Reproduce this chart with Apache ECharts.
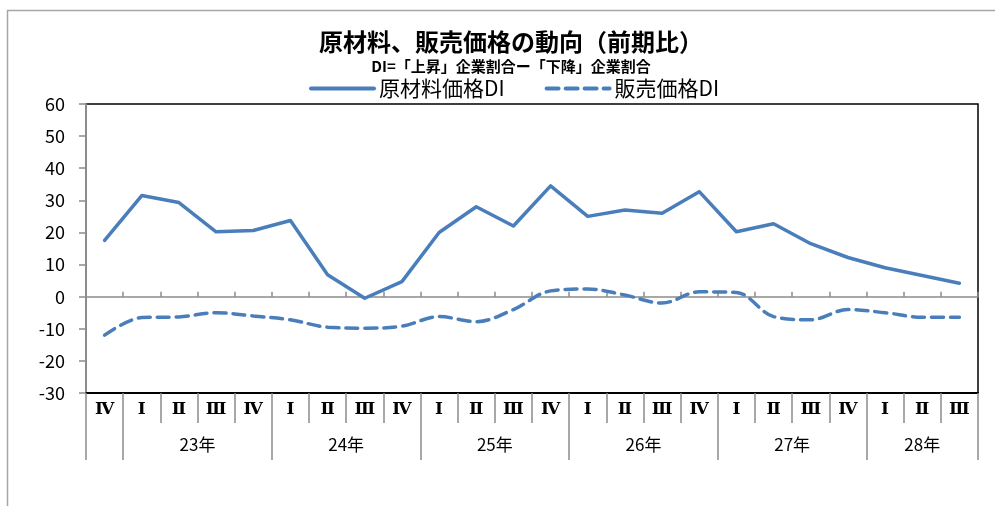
<!DOCTYPE html>
<html>
<head>
<meta charset="utf-8">
<script src="https://cdn.jsdelivr.net/npm/echarts@6/dist/echarts.min.js"></script>
<style>
  html, body { margin: 0; padding: 0; background: #fff; }
  #chart { width: 995px; height: 506px; }
</style>
</head>
<body>
<div id="chart"></div>
<script>
// quarters, starting with 22年 IV
const quarters = ['Ⅳ', 'Ⅰ', 'Ⅱ', 'Ⅲ', 'Ⅳ', 'Ⅰ', 'Ⅱ', 'Ⅲ', 'Ⅳ', 'Ⅰ', 'Ⅱ', 'Ⅲ',
                  'Ⅳ', 'Ⅰ', 'Ⅱ', 'Ⅲ', 'Ⅳ', 'Ⅰ', 'Ⅱ', 'Ⅲ', 'Ⅳ', 'Ⅰ', 'Ⅱ', 'Ⅲ']
// year groups: label and position (in category units) on the lower axis
const years = ['23年', '24年', '25年', '26年', '27年', '28年']
const yearCenters = [3, 7, 11, 15, 19, 22.5]
const yearBounds = [0, 1, 5, 9, 13, 17, 21, 24]

const rawMaterial = [17.5, 31.5, 29.3, 20.2, 20.6, 23.7, 6.8, -0.5, 4.7, 20, 28, 22,
                     34.5, 25, 27, 26, 32.7, 20.2, 22.7, 16.5, 12.2, 9, 6.6, 4.2]
const salesPrice = [-12, -6.5, -6.3, -5, -6, -7.2, -9.5, -9.8, -9.2, -6.2, -7.8, -4,
                    1.8, 2.4, 0.5, -2, 1.5, 1.3, -6.2, -7.2, -4, -5, -6.4, -6.4]

const blue = '#4A7EBB'
const gray = '#8c8c8c'
const jp = '"Noto Sans CJK JP", "Noto Sans", sans-serif'

const chart = echarts.init(document.getElementById('chart'))

chart.setOption({
    animation: false,
    textStyle: { fontFamily: jp },
    title: {
        text: '原材料、販売価格の動向（前期比）',
        subtext: 'DI=「上昇」企業割合ー「下降」企業割合',
        left: 506,
        textAlign: 'center',
        top: 25,
        itemGap: 5,
        textStyle: { fontSize: 24, fontWeight: 'bold', color: '#000', fontFamily: jp },
        subtextStyle: { fontSize: 15, fontWeight: 'bold', color: '#000', fontFamily: jp }
    },
    legend: {
        top: 73,
        left: 304,
        itemWidth: 63,
        itemHeight: 10,
        itemGap: 40,
        itemStyle: { opacity: 0 },
        lineStyle: { width: 4 },
        textStyle: { fontSize: 21, color: '#000', fontFamily: jp },
        data: ['原材料価格DI', '販売価格DI']
    },
    graphic: [{
        type: 'rect',
        shape: { x: 7.5, y: 10.5, width: 1000, height: 520 },
        style: { fill: null, stroke: '#a6a6a6', lineWidth: 1.5 },
        silent: true,
        z: -1
    }],
    grid: {
        left: 86,
        right: 17,
        top: 104,
        bottom: 113,
        show: true,
        borderColor: '#000',
        borderWidth: 1.5
    },
    xAxis: [
        {
            type: 'category',
            data: quarters,
            position: 'bottom',
            boundaryGap: true,
            axisLine: { onZero: false, lineStyle: { color: '#000', width: 2 } },
            axisTick: { show: true, length: 30, lineStyle: { color: gray, width: 1.5 } },
            axisLabel: {
                interval: 0,
                margin: 8,
                fontSize: 17,
                fontWeight: 'bold',
                color: '#000',
                fontFamily: '"DejaVu Serif", "Liberation Serif", "Noto Sans CJK JP", serif'
            },
            splitLine: { show: false }
        },
        {
            type: 'value',
            min: 0,
            max: 24,
            position: 'bottom',
            axisLine: { show: false, onZero: false },
            axisTick: {
                show: true,
                customValues: yearBounds,
                length: 67,
                lineStyle: { color: gray, width: 1.5 }
            },
            axisLabel: {
                customValues: yearCenters,
                margin: 43,
                fontSize: 17,
                color: '#000',
                formatter: v => years[yearCenters.indexOf(v)] || ''
            },
            splitLine: { show: false }
        },
        {
            type: 'category',
            data: quarters,
            position: 'bottom',
            boundaryGap: true,
            axisLine: { onZero: true, lineStyle: { color: gray, width: 1.5 } },
            axisTick: { show: true, inside: true, length: 5, lineStyle: { color: gray, width: 1.5 } },
            axisLabel: { show: false },
            splitLine: { show: false }
        }
    ],
    yAxis: {
        type: 'value',
        min: -30,
        max: 60,
        interval: 10,
        axisLine: { show: true, onZero: false, lineStyle: { color: gray, width: 2 } },
        axisTick: { show: true, length: 7, lineStyle: { color: gray, width: 1.5 } },
        axisLabel: { fontSize: 18, color: '#000', margin: 21 },
        splitLine: { show: false }
    },
    series: [
        {
            name: '原材料価格DI',
            type: 'line',
            xAxisIndex: 0,
            data: rawMaterial,
            symbol: 'none',
            lineStyle: { color: blue, width: 3.5, cap: 'round', join: 'round' },
            itemStyle: { color: blue },
            z: 5
        },
        {
            name: '販売価格DI',
            type: 'line',
            xAxisIndex: 0,
            data: salesPrice,
            symbol: 'none',
            smooth: 0.35,
            lineStyle: { color: blue, width: 3.5, type: [12, 7], cap: 'round' },
            itemStyle: { color: blue },
            z: 5
        }
    ]
})
</script>
</body>
</html>
